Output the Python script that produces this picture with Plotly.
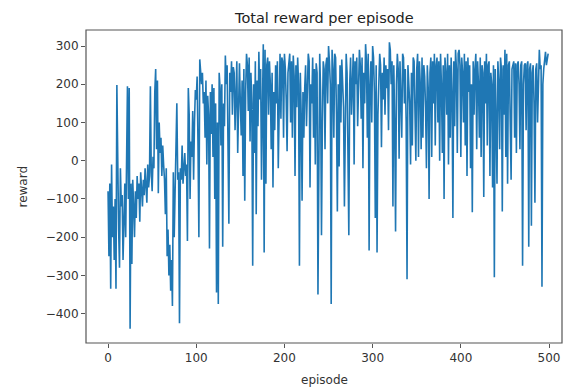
import plotly.graph_objects as go

# Rewards, per block of 100 episodes
reward_000_099 = [
    -80, -250, -60, -335, -10, -200, -120, -260, -100, -335,
    198, -30, -180, -280, -20, -120, -90, -260, -150, -60,
    -200, -40, 195, -100, 190, -440, -60, -270, -50, -120,
    -200, -80, -150, -40, -100, -60, -160, -30, -80, -120,
    -50, -90, -20, -60, -110, -10, -70, -40, 195, -30,
    -80, 10, -20, 180, 240, 30, 210, -85, 100, 20,
    60, -40, 40, -10, -50, -140, -20, -250, -180, -300,
    -220, -340, -260, -380, -30, -200, -60, -20, 150, -50,
    -30, -425, -20, -50, 40, -60, -30, 20, -40, -10,
    -210, 190, 120, -100, 50, 10, 130, -50, 100, 185,
]
reward_100_199 = [
    160, 220, 40, -200, 265, 240, 200, 230, 150, 180,
    60, 210, -10, 170, 120, -230, 180, 70, 200, 10,
    190, -100, 150, -345, 100, -375, 230, 190, 40, 200,
    -225, 150, 90, 275, 200, 250, 60, -165, 230, 180,
    260, 120, 245, 230, 80, 183, 260, 20, 200, 255,
    150, 66, 210, -40, 240, -105, 180, 280, 250, 130,
    270, 50, 230, 150, -275, 200, 20, 260, -140, 210,
    90, 285, 160, 240, -50, 230, 305, -240, 290, -60,
    250, 270, 120, 260, 200, 30, 230, -70, 180, 80,
    250, 150, 260, -20, 200, 280, 110, 270, 260, 60,
]
reward_200_299 = [
    280, 240, 160, 25, 230, 270, 280, 100, 260, 60,
    275, 220, -40, 250, 140, 270, 200, -275, 230, 120,
    -105, 180, 60, 190, 250, 90, 230, 280, 260, -70,
    200, 150, 270, 60, 240, -10, 255, 230, -350, 120,
    280, 180, -195, 100, 260, 240, 30, 250, 270, 150,
    300, 260, 200, -375, 290, 240, 60, 280, 270, 120,
    -133, 200, -15, 250, 100, 265, 220, 140, -120, 180,
    280, 230, 40, -195, 200, 270, 120, 255, 280, -10,
    260, 200, 270, 90, 240, 290, 250, 110, 270, -20,
    230, 150, 305, 260, 60, 280, -235, 200, 260, 100,
]
reward_300_399 = [
    300, 270, 180, -150, 250, -240, 120, 200, 280, 250,
    35, 230, 160, 270, 120, 250, 190, 240, 80, 310,
    290, 200, 260, -120, 250, 100, -185, 200, 280, 240,
    5, 260, 180, 60, 280, 270, 150, 240, 100, -310,
    250, 200, 150, -10, 230, 40, 270, 260, 120, 0,
    240, 280, 10, 260, 200, 30, 270, 60, 250, 220,
    140, -20, 250, 190, -100, 230, 270, 10, 260, 150,
    280, 40, 250, 270, 100, 260, 0, 280, 200, 20,
    250, -100, 270, 230, 120, 280, -10, 250, 60, 270,
    180, -150, 260, 90, 290, 240, 20, 280, 290, 250,
]
reward_400_499 = [
    10, 270, 230, 100, 280, 40, 260, -40, 270, 180,
    250, -20, 200, -135, 260, 120, 240, 280, 30, 260,
    200, 60, 270, 10, 250, 230, -95, 260, 150, 280,
    40, 250, 260, -40, 230, 200, -70, 250, -305, 240,
    100, -60, 260, 210, 30, 270, 240, -133, 250, 120,
    290, 10, 280, -60, 250, 260, 100, -50, 240, 250,
    260, 60, 255, 20, 250, 260, 200, 30, 250, 260,
    -275, 200, 250, 255, 80, 250, 260, -225, 240, 255,
    -170, 230, 250, 150, -110, 240, 255, 100, 220, 290,
    240, 250, -330, 200, 240, 260, 285, 250, 270, 280,
]

rewards = reward_000_099 + reward_100_199 + reward_200_299 + reward_300_399 + reward_400_499
episodes = list(range(len(rewards)))

x_ticks = [0, 100, 200, 300, 400, 500]
y_ticks = [-400, -300, -200, -100, 0, 100, 200, 300]

FONT = "DejaVu Sans"
TXT = "#333333"
FRAME = "#555555"

fig = go.Figure(
    go.Scatter(
        x=episodes, y=rewards, mode="lines",
        line=dict(color="#1f77b4", width=1.6),
        hoverinfo="skip",
    )
)

axis_common = dict(
    showgrid=False, zeroline=False, showline=False, automargin=False,
    ticks="outside", ticklen=4, tickwidth=1, tickcolor=FRAME,
    tickfont=dict(family=FONT, size=12, color=TXT),
)

fig.update_layout(
    width=565, height=392,
    margin=dict(l=86, r=3, t=30, b=49),
    paper_bgcolor="white", plot_bgcolor="white",
    showlegend=False,
    font=dict(family=FONT, color=TXT),
    xaxis=dict(range=[-25, 514.7], tickvals=x_ticks, **axis_common),
    yaxis=dict(
        range=[-477, 342], tickvals=y_ticks,
        ticktext=[("\u2212" + str(-v)) if v < 0 else str(v) for v in y_ticks],
        **axis_common,
    ),
    shapes=[
        dict(type="rect", xref="paper", yref="paper", x0=0, y0=0, x1=1, y1=1,
             line=dict(color=FRAME, width=1.2), fillcolor="rgba(0,0,0,0)", layer="above"),
    ],
    annotations=[
        dict(
            text="Total reward per episode", x=0.5, y=1, xref="paper", yref="paper",
            xanchor="center", yanchor="bottom", yshift=2, showarrow=False,
            font=dict(family=FONT, size=14.5, color="#222222"),
        ),
        dict(
            text="episode", x=0.5, y=0, xref="paper", yref="paper",
            xanchor="center", yanchor="top", yshift=-28, showarrow=False,
            font=dict(family=FONT, size=12, color=TXT),
        ),
        dict(
            text="reward", x=0, y=0.5, xref="paper", yref="paper",
            xanchor="center", yanchor="middle", xshift=-64, textangle=-90, showarrow=False,
            font=dict(family=FONT, size=12, color=TXT),
        ),
    ],
)

fig.write_html(
    "out.html",
    config={"displayModeBar": False, "staticPlot": True},
    post_script="document.body.style.margin='0';document.body.style.overflow='hidden';",
)
